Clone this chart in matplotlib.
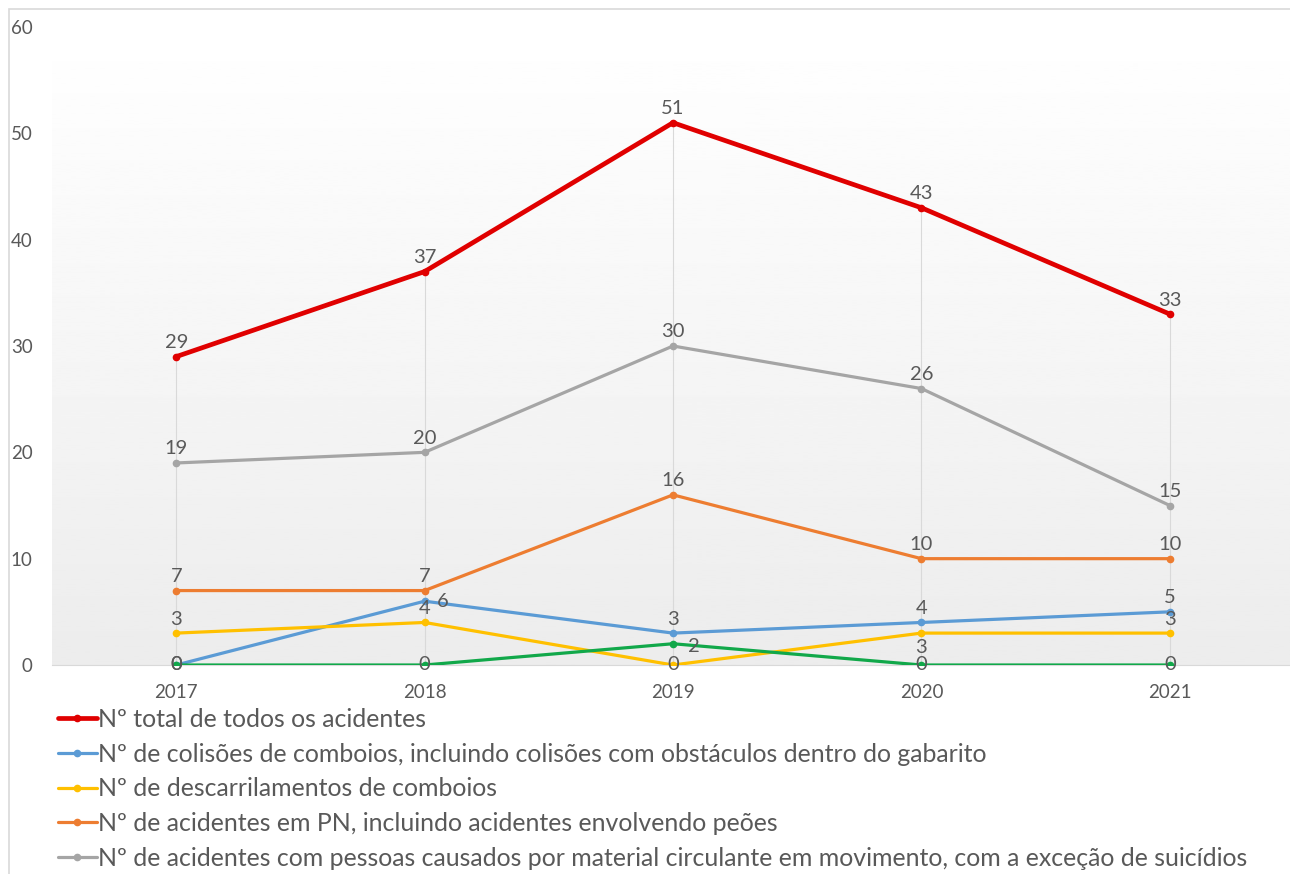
import numpy as np
import matplotlib.pyplot as plt
from matplotlib.patches import Rectangle

plt.rcParams['font.family'] = ['Lato', 'DejaVu Sans']

years = ['2017', '2018', '2019', '2020', '2021']

total = [29, 37, 51, 43, 33]
colisoes = [0, 6, 3, 4, 5]
descarrilamentos = [3, 4, 0, 3, 3]
acidentes_pn = [7, 7, 16, 10, 10]
pessoas = [19, 20, 30, 26, 15]
incendios = [0, 0, 2, 0, 0]

labels = [
    'Nº total de todos os acidentes',
    'Nº de colisões de comboios, incluindo colisões com obstáculos dentro do gabarito',
    'Nº de descarrilamentos de comboios',
    'Nº de acidentes em PN, incluindo acidentes envolvendo peões',
    'Nº de acidentes com pessoas causados por material circulante em movimento, com a exceção de suicídios',
]

text_col = '#595959'

# label placement tweaks (series index, point index) -> (dx, dy, ha, va) in points
offsets = {
    (1, 1): (9, 0, 'left', 'center'),
    (5, 2): (11, -2, 'left', 'center'),
    (2, 3): (0, -4, 'center', 'top'),
}

fig = plt.figure(figsize=(12.9, 8.74), dpi=100)
ax = fig.add_axes([52 / 1290, 209 / 874, 1242 / 1290, 638 / 874])

# outer chart border
fig.patches.append(Rectangle((9 / 1290, -0.1), 1.2, 1 - 9 / 874 + 0.1,
                             transform=fig.transFigure, fill=False,
                             edgecolor='#d9d9d9', lw=1.2))

# vertical gradient fill of the plot area
grad = np.linspace(1.0, 0.0, 256).reshape(-1, 1)
ax.imshow(grad, extent=(-0.5, 4.5, 0, 60), aspect='auto', cmap='gray',
          vmin=-12.5, vmax=1.0, origin='upper', zorder=0)

x = np.arange(len(years))

series = [
    (total, '#e00000', 3.4, labels[0]),
    (colisoes, '#5b9bd5', 2.3, labels[1]),
    (descarrilamentos, '#ffc000', 2.3, labels[2]),
    (acidentes_pn, '#ed7d31', 2.3, labels[3]),
    (pessoas, '#a5a5a5', 2.3, labels[4]),
    (incendios, '#11a84a', 2.3, '_nolegend_'),
]

# drop lines from the highest point down to the axis
tops = np.max([s[0] for s in series], axis=0)
ax.vlines(x, 0, tops, color='#d9d9d9', lw=0.8, zorder=1)

for si, (vals, col, lw, lab) in enumerate(series):
    ax.plot(x, vals, color=col, lw=lw, marker='o', ms=4.5, label=lab,
            zorder=3 + si * 0.1, solid_capstyle='round')
    for pi, v in enumerate(vals):
        if v == 0:
            dx, dy, ha, va = 0, 0, 'center', 'center'
        else:
            dx, dy, ha, va = offsets.get((si, pi), (0, 4, 'center', 'bottom'))
        ax.annotate(str(v), (pi, v), xytext=(dx, dy), textcoords='offset points',
                    ha=ha, va=va, fontsize=14.5, color=text_col, zorder=5)

ax.set_xlim(-0.5, 4.5)
ax.set_ylim(0, 60)
ax.set_xticks(x)
ax.set_xticklabels(years)
ax.set_yticks(range(0, 61, 10))
ax.tick_params(axis='both', length=0, labelsize=13.5, colors=text_col)
ax.tick_params(axis='x', pad=14)
ax.tick_params(axis='y', pad=14)

for s in ['top', 'right', 'left']:
    ax.spines[s].set_visible(False)
ax.spines['bottom'].set_color('#d9d9d9')
ax.spines['bottom'].set_zorder(2)

handles, labs = ax.get_legend_handles_labels()
leg = fig.legend(handles[:5], labs[:5], loc='upper left',
                 bbox_to_anchor=(58 / 1290, 1 - 708 / 874), frameon=False,
                 fontsize=17.9, handlelength=1.55, handletextpad=0.05,
                 labelspacing=0.47, borderpad=0, borderaxespad=0)
for t in leg.get_texts():
    t.set_color(text_col)

fig.savefig('out.png', dpi=100)
